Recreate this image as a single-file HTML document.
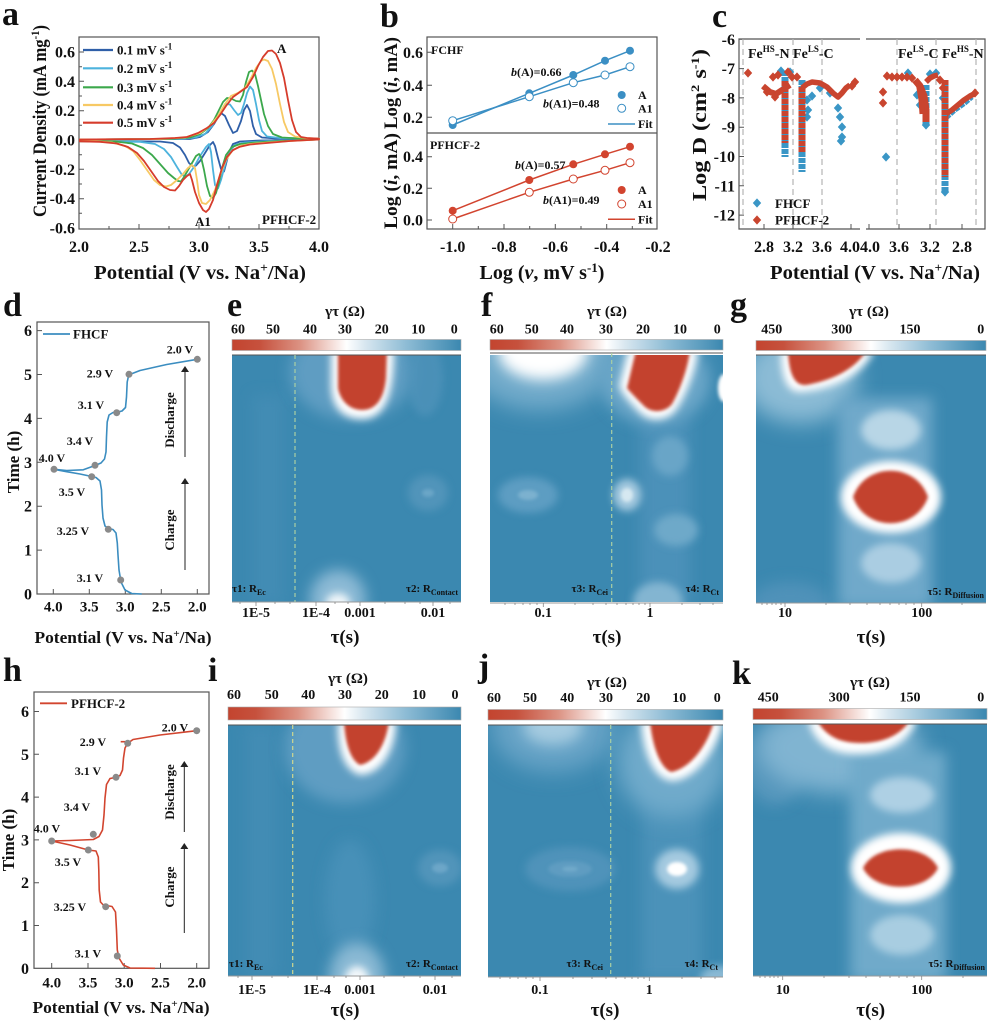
<!DOCTYPE html>
<html><head><meta charset="utf-8"><style>
html,body{margin:0;padding:0;background:#fff;}
svg{display:block;}
text{font-family:"Liberation Serif","DejaVu Serif",serif;font-weight:bold;fill:#111;}
</style></head><body>
<svg width="989" height="1024" viewBox="0 0 989 1024" xmlns="http://www.w3.org/2000/svg">
<defs>
<linearGradient id="cb" x1="0" x2="1" y1="0" y2="0">
<stop offset="0" stop-color="#c3442f"/><stop offset="0.12" stop-color="#c6513d"/><stop offset="0.3" stop-color="#dc9384"/><stop offset="0.44" stop-color="#f5dfda"/><stop offset="0.5" stop-color="#ffffff"/><stop offset="0.58" stop-color="#d8e7f0"/><stop offset="0.76" stop-color="#8ebcd5"/><stop offset="1" stop-color="#3b88b0"/>
</linearGradient>
<filter id="b2" x="-50%" y="-50%" width="200%" height="200%"><feGaussianBlur stdDeviation="1.5"/></filter>
<filter id="b4" x="-50%" y="-50%" width="200%" height="200%"><feGaussianBlur stdDeviation="4"/></filter>
<filter id="b7" x="-50%" y="-50%" width="200%" height="200%"><feGaussianBlur stdDeviation="7"/></filter>
<filter id="b11" x="-50%" y="-50%" width="200%" height="200%"><feGaussianBlur stdDeviation="11"/></filter>
<clipPath id="ce"><rect x="232" y="355" width="229" height="247"/></clipPath>
<clipPath id="cf"><rect x="490" y="355" width="233" height="247"/></clipPath>
<clipPath id="cg"><rect x="756" y="355" width="230" height="248"/></clipPath>
<clipPath id="ci"><rect x="228" y="725" width="233" height="251"/></clipPath>
<clipPath id="cj"><rect x="488" y="725" width="235" height="252"/></clipPath>
<clipPath id="ck"><rect x="753" y="724" width="234" height="252"/></clipPath>
<path id="dm" d="M0,-4.6 L4.2,0 L0,4.6 L-4.2,0Z"/>
<marker id="ar" markerWidth="6" markerHeight="8" refX="3" refY="4" orient="auto"><path d="M0,0 L6,4 L0,8 Z" fill="#222"/></marker>
</defs>

<!-- ============ PANEL A ============ -->
<text x="2" y="25" font-size="34">a</text>
<rect x="79" y="37" width="240" height="192" fill="none" stroke="#555" stroke-width="1.2"/>
<g stroke="#555" stroke-width="1">
<path d="M79,52H84M79,81.3H84M79,110.7H84M79,140H84M79,169.3H84M79,198.7H84M79,66.7H82M79,96H82M79,125.3H82M79,154.7H82M79,184H82M79,213.3H82"/>
<path d="M79,229V224M139,229V224M199,229V224M259,229V224M319,229V224M109,229V226M169,229V226M229,229V226M289,229V226"/>
</g>
<g font-size="16" text-anchor="end">
<text x="75" y="57.5">0.6</text><text x="75" y="86.8">0.4</text><text x="75" y="116.2">0.2</text><text x="75" y="145.5">0.0</text><text x="75" y="174.8">-0.2</text><text x="75" y="204.2">-0.4</text><text x="75" y="233.5">-0.6</text>
</g>
<g font-size="16" text-anchor="middle">
<text x="79" y="252">2.0</text><text x="139" y="252">2.5</text><text x="199" y="252">3.0</text><text x="259" y="252">3.5</text><text x="319" y="252">4.0</text>
</g>
<text x="200" y="279" font-size="20" text-anchor="middle" textLength="212" lengthAdjust="spacingAndGlyphs">Potential (V vs. Na<tspan dy="-7" font-size="13">+</tspan><tspan dy="7">/Na)</tspan></text>
<text transform="translate(46,121) rotate(-90)" font-size="19" text-anchor="middle" textLength="192" lengthAdjust="spacingAndGlyphs">Current Density (mA mg<tspan dy="-7" font-size="12">-1</tspan><tspan dy="7">)</tspan></text>
<g fill="none" stroke-width="1.8" stroke-linejoin="round">
<path stroke="#2f5fa8" d="M79,139.5 L190,139 L200,137 L208,132 L214,124 L218,117 L221.5,113.3 L225,116 L229,125 L233,133 L237,131 L241,121 L244,110 L247,105 L250,111 L253,126 L256,134 L262,137.5 L275,138.3 L319,138.7 L319,139.5 L260,140.5 L240,141.5 L233,144 L229,152 L226,164 L224,171.5 L221,169 L218,158 L215,146 L213,142 L210,145 L205,153 L200,161 L196,165.5 L193,166.5 L189,163 L185,155 L180,147.5 L173,143 L160,141.5 L79,141.2"/>
<path stroke="#4db3dd" d="M79,139.5 L180,139 L195,137.5 L205,134 L212,126 L218,117 L223,108 L226,104 L230,104.5 L234,110 L238,115 L241,113 L244,104 L247,93 L250,86.5 L253,90 L256,104 L259,120 L262,131 L267,136.5 L280,138 L319,138.7 L319,139.5 L270,141 L245,142.5 L235,145 L229,152 L225,165 L221,180 L218,188.5 L215,185 L213,170 L211,152 L209,144 L206,147 L200,156 L194,167 L189,174 L186,176.5 L182,175 L177,167 L171,157 L164,149 L155,144 L140,141.8 L79,141.2"/>
<path stroke="#3ca84c" d="M79,139.5 L170,139 L190,137.5 L200,134 L208,128 L214,120 L219,110 L223,102 L227,98 L231,98.5 L236,101 L240,101.5 L243,95 L246,82 L249,72 L252,70.5 L255,74 L258,86 L261,100 L264,114 L268,126 L273,134 L282,137.5 L300,138.5 L319,138.7 L319,139.5 L280,141 L255,142.5 L240,144 L232,147 L226,155 L222,168 L219,182 L216,193 L213,198 L210,196 L207,186 L204,170 L201,157 L199,154 L196,156 L192,163 L188,170 L184,177 L181,181.5 L178,181 L174,178 L168,173 L160,164 L152,155 L143,148 L132,143.5 L115,141.5 L79,141.2"/>
<path stroke="#f7c964" d="M79,139.5 L160,139 L185,137.5 L200,133 L210,126 L218,116 L225,104 L231,96 L238,93 L245,88 L251,78 L256,68 L261,61 L264,59.5 L268,61 L272,69 L276,84 L280,104 L284,122 L288,132 L295,136.5 L305,138 L319,138.7 L319,139.5 L290,141 L268,142.5 L250,144 L240,146 L232,151 L226,160 L220,175 L215,190 L210,200 L206,204 L202,203 L199,195 L197,180 L195,168 L192,165 L188,168 L183,174 L177,180 L171,185 L166,186.5 L160,185 L154,180 L147,170 L140,160 L133,151 L125,146 L112,142.5 L95,141.3 L79,141.2"/>
<path stroke="#d63c2c" d="M79,139.5 L150,139 L175,138 L187,137 L198,133 L207,128 L214,123 L220,115 L226,106 L233,97 L240,92 L247,87 L253,77 L258,66 L263,57 L268,51 L272,50.5 L276,54 L280,63 L284,78 L288,100 L292,120 L296,132 L301,137 L307,138 L319,138.7 L319,139.5 L290,141 L267,143 L250,144.5 L240,146.7 L233,150 L227,157 L222,168 L217,185 L213,200 L209,209 L206,212 L203,210 L199,203 L195,192 L192,180 L190,174 L187,176 L183,180 L179,186 L175,190.5 L170,190 L164,187 L158,181 L151,171 L144,161 L137,153 L128,147 L117,143.5 L100,141.8 L79,141.3"/>
</g>
<g stroke-width="2.2">
<line x1="83" y1="50" x2="113" y2="50" stroke="#2f5fa8"/><line x1="83" y1="68.3" x2="113" y2="68.3" stroke="#4db3dd"/><line x1="83" y1="87.3" x2="113" y2="87.3" stroke="#3ca84c"/><line x1="83" y1="105" x2="113" y2="105" stroke="#f7c964"/><line x1="83" y1="122.7" x2="113" y2="122.7" stroke="#d63c2c"/>
</g>
<g font-size="13">
<text x="117" y="54.5">0.1 mV s<tspan dy="-5" font-size="9">-1</tspan></text>
<text x="117" y="72.8">0.2 mV s<tspan dy="-5" font-size="9">-1</tspan></text>
<text x="117" y="91.8">0.3 mV s<tspan dy="-5" font-size="9">-1</tspan></text>
<text x="117" y="109.5">0.4 mV s<tspan dy="-5" font-size="9">-1</tspan></text>
<text x="117" y="127.2">0.5 mV s<tspan dy="-5" font-size="9">-1</tspan></text>
</g>
<text x="277" y="53" font-size="13">A</text>
<text x="195" y="226" font-size="13">A1</text>
<text x="262" y="224" font-size="13">PFHCF-2</text>

<!-- ============ PANEL B ============ -->
<text x="380" y="27" font-size="34">b</text>
<rect x="427" y="37" width="230" height="192" fill="none" stroke="#555" stroke-width="1.2"/>
<line x1="427" y1="133" x2="657" y2="133" stroke="#555" stroke-width="1.2"/>
<g stroke="#555" stroke-width="1">
<path d="M427,52.3H432M427,85.3H432M427,117.3H432M427,156.7H432M427,188.3H432M427,220H432"/>
<path d="M452.7,229V224M504,229V224M555.3,229V224M606.7,229V224M478.3,229V226M529.7,229V226M581,229V226M632.3,229V226"/>
</g>
<g font-size="16" text-anchor="end">
<text x="423" y="57.8">0.6</text><text x="423" y="90.8">0.4</text><text x="423" y="122.8">0.2</text>
<text x="423" y="162.2">0.4</text><text x="423" y="193.8">0.2</text><text x="423" y="225.5">0.0</text>
</g>
<g font-size="16" text-anchor="middle">
<text x="452.7" y="252">-1.0</text><text x="504" y="252">-0.8</text><text x="555.3" y="252">-0.6</text><text x="606.7" y="252">-0.4</text><text x="658" y="252">-0.2</text>
</g>
<text x="542" y="279" font-size="20" text-anchor="middle">Log (<tspan font-style="italic">v</tspan>, mV s<tspan dy="-7" font-size="13">-1</tspan><tspan dy="7">)</tspan></text>
<text transform="translate(397,83) rotate(-90)" font-size="19" text-anchor="middle" textLength="92" lengthAdjust="spacingAndGlyphs">Log (<tspan font-style="italic">i</tspan>, mA)</text>
<text transform="translate(397,181) rotate(-90)" font-size="19" text-anchor="middle" textLength="96" lengthAdjust="spacingAndGlyphs">Log (<tspan font-style="italic">i</tspan>, mA)</text>
<g stroke-width="1.5" fill="none">
<path stroke="#3b8fc4" d="M452.7,125 L529.3,93.3 L573.3,75 L605,60.7 L630,50.7"/>
<path stroke="#3b8fc4" d="M452.7,120.7 L529.3,96.7 L573.3,82.7 L605,75 L630,66.7"/>
<path stroke="#d2442f" d="M452.7,210.7 L529.3,180 L573.3,164.3 L605,154.3 L630,146.7"/>
<path stroke="#d2442f" d="M452.7,219 L529.3,192.3 L573.3,179 L605,170.3 L630,162.7"/>
</g>
<g fill="#3b8fc4"><circle cx="452.7" cy="125" r="4"/><circle cx="529.3" cy="93.3" r="4"/><circle cx="573.3" cy="75" r="4"/><circle cx="605" cy="60.7" r="4"/><circle cx="630" cy="50.7" r="4"/><circle cx="621.7" cy="95" r="4"/></g>
<g fill="#fff" stroke="#3b8fc4" stroke-width="1"><circle cx="452.7" cy="120.7" r="4"/><circle cx="529.3" cy="96.7" r="4"/><circle cx="573.3" cy="82.7" r="4"/><circle cx="605" cy="75" r="4"/><circle cx="630" cy="66.7" r="4"/><circle cx="621.7" cy="108.3" r="4"/></g>
<g fill="#d2442f"><circle cx="452.7" cy="210.7" r="4"/><circle cx="529.3" cy="180" r="4"/><circle cx="573.3" cy="164.3" r="4"/><circle cx="605" cy="154.3" r="4"/><circle cx="630" cy="146.7" r="4"/><circle cx="621.7" cy="190" r="4"/></g>
<g fill="#fff" stroke="#d2442f" stroke-width="1"><circle cx="452.7" cy="219" r="4"/><circle cx="529.3" cy="192.3" r="4"/><circle cx="573.3" cy="179" r="4"/><circle cx="605" cy="170.3" r="4"/><circle cx="630" cy="162.7" r="4"/><circle cx="621.7" cy="204" r="4"/></g>
<line x1="608" y1="124" x2="635" y2="124" stroke="#3b8fc4" stroke-width="1.5"/>
<line x1="608" y1="219.3" x2="635" y2="219.3" stroke="#d2442f" stroke-width="1.5"/>
<g font-size="12">
<text x="638" y="99">A</text><text x="638" y="112.5">A1</text><text x="638" y="128">Fit</text>
<text x="638" y="194">A</text><text x="638" y="208">A1</text><text x="638" y="223.5">Fit</text>
<text x="431" y="54">FCHF</text><text x="430" y="149">PFHCF-2</text>
<text x="511" y="76"><tspan font-style="italic">b</tspan>(A)=0.66</text>
<text x="543" y="107.5"><tspan font-style="italic">b</tspan>(A1)=0.48</text>
<text x="515" y="169"><tspan font-style="italic">b</tspan>(A)=0.57</text>
<text x="543" y="204"><tspan font-style="italic">b</tspan>(A1)=0.49</text>
</g>

<!-- ============ PANEL C ============ -->
<text x="712" y="27" font-size="34">c</text>
<g stroke="#555" stroke-width="1.2" fill="none">
<path d="M860,39 H739 V229 H860"/>
<path d="M866,39 H985 V229 H866"/>
</g>
<g stroke="#555" stroke-width="1">
<path d="M739,39.3H744M739,68.6H744M739,97.9H744M739,127.2H744M739,156.5H744M739,185.8H744M739,215.1H744"/>
<path d="M764,229V224M793,229V224M822,229V224M851,229V224M869,229V224M899,229V224M930,229V224M962,229V224"/>
</g>
<g stroke="#b5b5b5" stroke-width="1.2" stroke-dasharray="6,4">
<line x1="743" y1="39" x2="743" y2="229"/><line x1="793" y1="39" x2="793" y2="229"/><line x1="822" y1="39" x2="822" y2="229"/>
<line x1="897" y1="39" x2="897" y2="229"/><line x1="936" y1="39" x2="936" y2="229"/><line x1="976" y1="39" x2="976" y2="229"/>
</g>
<g font-size="16" text-anchor="end">
<text x="735" y="44.8">-6</text><text x="735" y="74.1">-7</text><text x="735" y="103.4">-8</text><text x="735" y="132.7">-9</text><text x="735" y="162">-10</text><text x="735" y="191.3">-11</text><text x="735" y="220.6">-12</text>
</g>
<g font-size="16" text-anchor="middle">
<text x="764" y="252">2.8</text><text x="793" y="252">3.2</text><text x="822" y="252">3.6</text><text x="850" y="252">4.0</text>
<text x="870" y="252">4.0</text><text x="899" y="252">3.6</text><text x="930" y="252">3.2</text><text x="962" y="252">2.8</text>
</g>
<text x="875" y="279" font-size="20" text-anchor="middle" textLength="210" lengthAdjust="spacingAndGlyphs">Potential (V vs. Na<tspan dy="-7" font-size="13">+</tspan><tspan dy="7">/Na)</tspan></text>
<text transform="translate(706,125) rotate(-90)" font-size="20" text-anchor="middle" textLength="152" lengthAdjust="spacingAndGlyphs">Log D (cm<tspan dy="-7" font-size="12">2</tspan><tspan dy="7"> s</tspan><tspan dy="-7" font-size="12">-1</tspan><tspan dy="7">)</tspan></text>
<g font-size="14">
<text x="748" y="58">Fe<tspan dy="-6" font-size="9">HS</tspan><tspan dy="6">-N Fe</tspan><tspan dy="-6" font-size="9">LS</tspan><tspan dy="6">-C</tspan></text>
<text x="898" y="58">Fe<tspan dy="-6" font-size="9">LS</tspan><tspan dy="6">-C Fe</tspan><tspan dy="-6" font-size="9">HS</tspan><tspan dy="6">-N</tspan></text>
</g>
<!-- blue streaks -->
<g stroke="#3a96c6" stroke-width="7" fill="none" stroke-linejoin="round" stroke-dasharray="5,1">
<line x1="785" y1="71" x2="785" y2="157"/><line x1="802" y1="80" x2="802" y2="172"/>
<line x1="926" y1="85" x2="926" y2="125"/><line x1="945" y1="85" x2="945" y2="192"/>
<path stroke-width="5" d="M946,118 L955,110 L965,103 L972,97"/>
</g>
<g fill="#3a96c6">
<use href="#dm" x="781" y="71"/><use href="#dm" x="790" y="72"/><use href="#dm" x="807" y="100"/><use href="#dm" x="808" y="110"/><use href="#dm" x="807" y="117"/><use href="#dm" x="838" y="108"/><use href="#dm" x="840" y="117"/><use href="#dm" x="842" y="127"/><use href="#dm" x="842" y="137"/><use href="#dm" x="841" y="141"/><use href="#dm" x="820" y="88"/><use href="#dm" x="830" y="93"/><use href="#dm" x="812" y="96"/>
<use href="#dm" x="886" y="157"/><use href="#dm" x="908" y="73"/><use href="#dm" x="930" y="74"/><use href="#dm" x="936" y="73"/><use href="#dm" x="920" y="105"/><use href="#dm" x="917" y="95"/><use href="#dm" x="943" y="98"/><use href="#dm" x="945" y="192"/><use href="#dm" x="926" y="125"/>
<use href="#dm" x="757" y="203"/>
</g>
<!-- red -->
<g stroke="#c9452f" stroke-width="7" fill="none" stroke-linejoin="round">
<line x1="785" y1="81" x2="785" y2="143" stroke-dasharray="5,1"/><line x1="802" y1="87" x2="802" y2="153" stroke-dasharray="5,1"/>
<path stroke-width="6" d="M763,86 L770,92 L776,94 L782,90 L790,85"/>
<path stroke-width="5.5" d="M802,88 L807,84 L812,82 L820,83 L827,87 L833,93 L838,97 L842,93 L846,88 L850,85"/>
<path d="M915,80 L920,86 L924,96 L926,110 L926,122"/>
<path stroke-width="5" d="M918,82 L921,100 L922,114"/>
<path stroke-width="5.5" d="M926,82 L930,78 L934,76 L938,75"/>
<line x1="945" y1="80" x2="945" y2="177" stroke-dasharray="5,1"/>
<path stroke-width="5.5" d="M946,114 L952,110 L958,105 L964,100 L970,96 L974,94"/>
</g>
<g fill="#c9452f">
<use href="#dm" x="748" y="73"/><use href="#dm" x="773" y="77"/><use href="#dm" x="778" y="75"/><use href="#dm" x="788" y="72"/><use href="#dm" x="792" y="77"/><use href="#dm" x="797" y="77"/><use href="#dm" x="767" y="92"/><use href="#dm" x="775" y="97"/><use href="#dm" x="852" y="86"/><use href="#dm" x="855" y="82"/>
<use href="#dm" x="883" y="92"/><use href="#dm" x="883" y="103"/><use href="#dm" x="887" y="76"/><use href="#dm" x="892" y="77"/><use href="#dm" x="897" y="77"/><use href="#dm" x="902" y="77"/><use href="#dm" x="907" y="77"/><use href="#dm" x="912" y="78"/><use href="#dm" x="940" y="80"/><use href="#dm" x="943" y="88"/><use href="#dm" x="975" y="93"/>
<use href="#dm" x="757" y="220"/>
</g>
<g font-size="13"><text x="775" y="208">FHCF</text><text x="775" y="224.5">PFHCF-2</text></g>

<!-- ============ PANEL D ============ -->
<text x="3" y="316" font-size="34">d</text>
<rect x="37" y="322" width="172" height="272" fill="none" stroke="#555" stroke-width="1.2"/>
<g stroke="#555" stroke-width="1">
<path d="M37,330.6H42M37,374.5H42M37,418.4H42M37,462.3H42M37,506.2H42M37,550.1H42"/>
<path d="M53.3,594V589M89.3,594V589M125.3,594V589M161.3,594V589M197.3,594V589"/>
</g>
<g font-size="16" text-anchor="end">
<text x="32" y="599.5">0</text><text x="32" y="555.6">1</text><text x="32" y="511.7">2</text><text x="32" y="467.8">3</text><text x="32" y="423.9">4</text><text x="32" y="380">5</text><text x="32" y="336.1">6</text>
</g>
<g font-size="15" text-anchor="middle">
<text x="53.3" y="611.5">4.0</text><text x="89.3" y="611.5">3.5</text><text x="125.3" y="611.5">3.0</text><text x="161.3" y="611.5">2.5</text><text x="197.3" y="611.5">2.0</text>
</g>
<text x="123" y="643" font-size="17" text-anchor="middle" textLength="177" lengthAdjust="spacingAndGlyphs">Potential (V vs. Na<tspan dy="-6" font-size="11">+</tspan><tspan dy="6">/Na)</tspan></text>
<text transform="translate(19,462) rotate(-90)" font-size="17" text-anchor="middle">Time (h)</text>
<g fill="none" stroke="#3b8dc0" stroke-width="1.6" stroke-linejoin="round">
<path d="M141.7,594 L131.7,593.5 L125,590 L121,582 L119,570 L118,555 L117.3,543 L116,533 L113,529.5 L108.3,528.5 L105,526 L103,518 L102,505 L101.5,490 L100,481 L96,477.5 L91.7,476.5 L80,474 L66.7,471.7 L54,469.3"/>
<path d="M54,469.3 L66.7,470.5 L83.3,469.8 L95,465.5 L101,463 L104.5,459 L106,452 L106.5,437 L107.2,422 L109,415 L113,412.5 L116.7,412.3 L122,411 L125.5,407.5 L126.5,397 L127.2,382 L128.5,376 L131,374 L140,370.5 L166.7,364.5 L197.3,359.3"/>
</g>
<line x1="43" y1="334" x2="70" y2="334" stroke="#3b8dc0" stroke-width="1.8"/>
<text x="73" y="338.5" font-size="13">FHCF</text>
<g fill="#8a8a8a"><circle cx="120.7" cy="580" r="3.5"/><circle cx="108.3" cy="529.3" r="3.5"/><circle cx="91.7" cy="476.7" r="3.5"/><circle cx="54" cy="469.3" r="3.5"/><circle cx="95" cy="465.3" r="3.5"/><circle cx="116.7" cy="412.7" r="3.5"/><circle cx="129" cy="374.3" r="3.5"/><circle cx="197.3" cy="359.3" r="3.5"/></g>
<g font-size="12" text-anchor="middle">
<text x="90" y="582">3.1 V</text><text x="73" y="535">3.25 V</text><text x="72" y="496">3.5 V</text><text x="52" y="462">4.0 V</text><text x="80" y="445">3.4 V</text><text x="91" y="409">3.1 V</text><text x="100" y="377.5">2.9 V</text><text x="180" y="353.5">2.0 V</text>
</g>
<g stroke="#222" stroke-width="1" marker-end="url(#ar)"><line x1="185" y1="457" x2="185" y2="369"/><line x1="185" y1="570" x2="185" y2="481"/></g>
<text transform="translate(174,420) rotate(-90)" font-size="13" text-anchor="middle">Discharge</text>
<text transform="translate(174,530) rotate(-90)" font-size="13" text-anchor="middle">Charge</text>

<!-- ============ PANEL H ============ -->
<text x="3" y="681" font-size="34">h</text>
<rect x="34" y="692" width="175" height="276.3" fill="none" stroke="#555" stroke-width="1.2"/>
<g stroke="#555" stroke-width="1">
<path d="M34,711.5H39M34,754.3H39M34,797.1H39M34,839.9H39M34,882.7H39M34,925.5H39"/>
<path d="M51.7,968.3V963M88,968.3V963M124.2,968.3V963M160.5,968.3V963M196.7,968.3V963"/>
</g>
<g font-size="16" text-anchor="end">
<text x="29" y="973.8">0</text><text x="29" y="931">1</text><text x="29" y="888.2">2</text><text x="29" y="845.4">3</text><text x="29" y="802.6">4</text><text x="29" y="759.8">5</text><text x="29" y="717">6</text>
</g>
<g font-size="15" text-anchor="middle">
<text x="51.7" y="987.5">4.0</text><text x="88" y="987.5">3.5</text><text x="124.2" y="987.5">3.0</text><text x="160.5" y="987.5">2.5</text><text x="196.7" y="987.5">2.0</text>
</g>
<text x="121" y="1013" font-size="17" text-anchor="middle" textLength="177" lengthAdjust="spacingAndGlyphs">Potential (V vs. Na<tspan dy="-6" font-size="11">+</tspan><tspan dy="6">/Na)</tspan></text>
<text transform="translate(14,840) rotate(-90)" font-size="17" text-anchor="middle">Time (h)</text>
<g fill="none" stroke="#d2452f" stroke-width="1.6" stroke-linejoin="round">
<path d="M155,968.3 L130,968 L123.3,965 L119,958 L117.3,950 L116.5,930 L115.5,912 L112,906.5 L103.3,905 L100.5,902 L99.2,890 L98.8,870 L98.3,857 L96,851 L88.3,850 L70,845 L51.7,841"/>
<path d="M51.7,841 L70,840.5 L93.3,839.5 L99,836.5 L102.5,830 L104,815 L105,798 L106.5,784.5 L110,778.5 L116,777.3 L120,775.5 L122.5,770 L123.5,758 L125,748 L127.7,743.3 L133,739.5 L160,735 L196.7,730.7"/>
<path d="M120.7,741.7 L128.3,741.7"/>
</g>
<line x1="40" y1="703.3" x2="67" y2="703.3" stroke="#d2452f" stroke-width="1.8"/>
<text x="71" y="708" font-size="13">PFHCF-2</text>
<g fill="#8a8a8a"><circle cx="117.3" cy="956" r="3.5"/><circle cx="105.7" cy="906.7" r="3.5"/><circle cx="88.3" cy="850" r="3.5"/><circle cx="51.7" cy="841" r="3.5"/><circle cx="93.3" cy="834.3" r="3.5"/><circle cx="116" cy="777.3" r="3.5"/><circle cx="127.7" cy="743.3" r="3.5"/><circle cx="196.7" cy="730.7" r="3.5"/></g>
<g font-size="12" text-anchor="middle">
<text x="88" y="957.5">3.1 V</text><text x="70" y="911">3.25 V</text><text x="68" y="866">3.5 V</text><text x="47" y="832.5">4.0 V</text><text x="77" y="811">3.4 V</text><text x="88" y="775">3.1 V</text><text x="93" y="746">2.9 V</text><text x="175" y="731.5">2.0 V</text>
</g>
<g stroke="#222" stroke-width="1" marker-end="url(#ar)"><line x1="184.3" y1="832" x2="184.3" y2="764"/><line x1="184.3" y1="933" x2="184.3" y2="846"/></g>
<text transform="translate(174,792) rotate(-90)" font-size="13" text-anchor="middle">Discharge</text>
<text transform="translate(174,887) rotate(-90)" font-size="13" text-anchor="middle">Charge</text>

<!-- ============ PANEL E ============ -->
<text x="227" y="316" font-size="34">e</text>
<text x="345" y="316" font-size="15" text-anchor="middle">γτ (Ω)</text>
<g font-size="14" text-anchor="middle">
<text x="238" y="333.5">60</text><text x="273" y="333.5">50</text><text x="310" y="333.5">40</text><text x="345" y="333.5">30</text><text x="381.7" y="333.5">20</text><text x="418.3" y="333.5">10</text><text x="454.3" y="333.5">0</text>
</g>
<rect x="232" y="339.5" width="229" height="11" fill="url(#cb)" stroke="#aaa" stroke-width="0.6"/>
<g clip-path="url(#ce)">
<rect x="232" y="355" width="229" height="247" fill="#3b88b0"/>
<rect x="252" y="395" width="32" height="210" fill="#4890b8" opacity="0.5" filter="url(#b7)"/>
<ellipse cx="352" cy="372" rx="62" ry="48" fill="#5e9dc2" filter="url(#b7)"/>
<ellipse cx="425" cy="378" rx="18" ry="38" fill="#5194bb" opacity="0.7" filter="url(#b4)"/>
<ellipse cx="428" cy="493" rx="20" ry="18" fill="#5194ba" filter="url(#b4)"/>
<ellipse cx="428" cy="493" rx="6" ry="4" fill="#6ba6c7" filter="url(#b2)"/>
<ellipse cx="338" cy="600" rx="28" ry="30" fill="#8cbad5" filter="url(#b7)"/>
<ellipse cx="338" cy="603" rx="12" ry="10" fill="#eef5f9" filter="url(#b4)"/>
<path d="M331,350 L394,350 C394,385 389,419 362,419 C337,419 331,400 331,385 Z" fill="#fff" filter="url(#b4)"/>
<path d="M338,350 L387,350 L386,378 C384,399 376,410 362,410 C349,410 340,400 338,388 Z" fill="#c3432f" filter="url(#b2)"/>
</g>
<line x1="232" y1="355" x2="461" y2="355" stroke="#555" stroke-width="1"/>
<line x1="232" y1="602" x2="461" y2="602" stroke="#999" stroke-width="1"/>
<line x1="295" y1="355" x2="295" y2="602" stroke="#a9cfa4" stroke-width="1.2" stroke-dasharray="4,3"/>
<g stroke="#888" stroke-width="0.8"><path d="M256,602V606M316,602V606M360,602V606M433,602V606M240,602V604M275,602V604M290,602V604M335,602V604M348,602V604M385,602V604M405,602V604M420,602V604M450,602V604"/></g>
<g font-size="14" text-anchor="middle">
<text x="256" y="617">1E-5</text><text x="316" y="617">1E-4</text><text x="360" y="617">0.001</text><text x="433" y="617">0.01</text>
</g>
<text x="345" y="643" font-size="19" text-anchor="middle">τ(s)</text>
<g font-size="11">
<text x="232" y="592">τ1:  R<tspan dy="3" font-size="8">Ec</tspan></text>
<text x="458" y="592" text-anchor="end">τ2:  R<tspan dy="3" font-size="8">Contact</tspan></text>
</g>

<!-- ============ PANEL F ============ -->
<text x="481" y="316" font-size="34">f</text>
<text x="607" y="316" font-size="15" text-anchor="middle">γτ (Ω)</text>
<g font-size="14" text-anchor="middle">
<text x="496.7" y="333.5">60</text><text x="531.7" y="333.5">50</text><text x="567" y="333.5">40</text><text x="606" y="333.5">30</text><text x="643" y="333.5">20</text><text x="680" y="333.5">10</text><text x="717.3" y="333.5">0</text>
</g>
<rect x="490" y="339.5" width="233" height="10.5" fill="url(#cb)" stroke="#aaa" stroke-width="0.6"/>
<g clip-path="url(#cf)">
<rect x="490" y="353" width="233" height="250" fill="#3b88b0"/>
<rect x="640" y="410" width="50" height="195" fill="#4b91b9" filter="url(#b7)"/>
<ellipse cx="540" cy="352" rx="78" ry="58" fill="#72abcb" filter="url(#b11)"/>
<ellipse cx="543" cy="352" rx="45" ry="28" fill="#ffffff" filter="url(#b7)"/>
<ellipse cx="655" cy="380" rx="55" ry="45" fill="#6aa6c8" filter="url(#b7)"/>
<ellipse cx="627" cy="495" rx="14" ry="16" fill="#a4c9df" filter="url(#b4)"/>
<ellipse cx="627" cy="495" rx="6" ry="7" fill="#d6e8f1" filter="url(#b2)"/>
<ellipse cx="528" cy="495" rx="30" ry="18" fill="#5d9dc2" filter="url(#b4)"/>
<ellipse cx="528" cy="495" rx="10" ry="5" fill="#7cb1cf" filter="url(#b2)"/>
<ellipse cx="676" cy="530" rx="22" ry="16" fill="#6ea9c9" filter="url(#b4)"/>
<ellipse cx="670" cy="456" rx="18" ry="20" fill="#69a5c7" filter="url(#b4)"/>
<ellipse cx="658" cy="602" rx="25" ry="20" fill="#83b5d1" filter="url(#b4)"/>
<ellipse cx="724" cy="388" rx="6" ry="14" fill="#ffffff" filter="url(#b2)"/>
<path d="M628,350 L698,350 C696,370 686,396 676,410 C668,421 650,423 640,413 C630,403 621,393 619,386 Z" fill="#fff" filter="url(#b4)"/>
<path d="M636,350 L690,350 C688,368 680,390 672,404 C666,412 652,414 644,406 C636,398 630,392 627,388 Z" fill="#c3432f" filter="url(#b2)"/>
</g>
<line x1="490" y1="353" x2="723" y2="353" stroke="#555" stroke-width="1"/>
<line x1="490" y1="603" x2="723" y2="603" stroke="#999" stroke-width="1"/>
<line x1="611.7" y1="353" x2="611.7" y2="603" stroke="#a9cfa4" stroke-width="1.2" stroke-dasharray="4,3"/>
<g stroke="#888" stroke-width="0.8"><path d="M543.3,603V607M650,603V607M505,603V605M515,603V605M523,603V605M530,603V605M537,603V605M575,603V605M593,603V605M606,603V605M617,603V605M626,603V605M633,603V605M639,603V605M645,603V605M682,603V605M700,603V605M713,603V605"/></g>
<g font-size="14" text-anchor="middle"><text x="543.3" y="617">0.1</text><text x="650" y="617">1</text></g>
<text x="607" y="643" font-size="19" text-anchor="middle">τ(s)</text>
<g font-size="11">
<text x="608" y="592" text-anchor="end">τ3:  R<tspan dy="3" font-size="8">Cei</tspan></text>
<text x="719" y="592" text-anchor="end">τ4:  R<tspan dy="3" font-size="8">Ct</tspan></text>
</g>

<!-- ============ PANEL G ============ -->
<text x="730" y="316" font-size="34">g</text>
<text x="869" y="316" font-size="15" text-anchor="middle">γτ (Ω)</text>
<g font-size="14" text-anchor="middle">
<text x="771.7" y="333.5">450</text><text x="841.7" y="333.5">300</text><text x="910" y="333.5">150</text><text x="980.7" y="333.5">0</text>
</g>
<rect x="756" y="340.5" width="230" height="10" fill="url(#cb)" stroke="#aaa" stroke-width="0.6"/>
<g clip-path="url(#cg)">
<rect x="756" y="355" width="230" height="248" fill="#3b88b0"/>
<ellipse cx="790" cy="604" rx="40" ry="22" fill="#5092b9" filter="url(#b7)"/>
<ellipse cx="800" cy="378" rx="58" ry="45" fill="#8bbbd5" filter="url(#b11)"/>
<rect x="838" y="398" width="94" height="210" fill="#6fa9ca" filter="url(#b7)"/>
<ellipse cx="891" cy="430" rx="30" ry="20" fill="#b8d6e6" filter="url(#b4)"/>
<ellipse cx="891" cy="563" rx="30" ry="20" fill="#aacde2" filter="url(#b4)"/>
<ellipse cx="891" cy="497" rx="50" ry="36" fill="#ffffff" filter="url(#b4)"/>
<path d="M781,351 L874,351 C862,376 832,390 800,392 C786,392 781,376 781,351 Z" fill="#fff" filter="url(#b4)"/>
<path d="M788,351 L866,351 C855,370 830,381 806,385 C795,386 789,375 788,351 Z" fill="#c3432f" filter="url(#b2)"/>
<path d="M853,497 C865,462 916,462 928,497 C916,532 865,532 853,497 Z" fill="#c3432f" filter="url(#b2)"/>
</g>
<line x1="756" y1="355" x2="986" y2="355" stroke="#555" stroke-width="1"/>
<line x1="756" y1="603" x2="986" y2="603" stroke="#999" stroke-width="1"/>
<g stroke="#888" stroke-width="0.8"><path d="M785,603V607M921.7,603V607M762,603V605M767,603V605M772,603V605M776,603V605M781,603V605M826,603V605M850,603V605M867,603V605M880,603V605M890,603V605M899,603V605M906,603V605M914,603V605M962,603V605"/></g>
<g font-size="14" text-anchor="middle"><text x="785" y="617">10</text><text x="921.7" y="617">100</text></g>
<text x="871" y="643" font-size="19" text-anchor="middle">τ(s)</text>
<text x="984" y="595" font-size="11" text-anchor="end">τ5:  R<tspan dy="3" font-size="8">Diffusion</tspan></text>

<!-- ============ PANEL I ============ -->
<text x="208" y="681" font-size="34">i</text>
<text x="348" y="683" font-size="15" text-anchor="middle">γτ (Ω)</text>
<g font-size="14" text-anchor="middle">
<text x="234" y="699">60</text><text x="271.7" y="699">50</text><text x="308.3" y="699">40</text><text x="345" y="699">30</text><text x="381.7" y="699">20</text><text x="419" y="699">10</text><text x="455" y="699">0</text>
</g>
<rect x="228" y="707" width="233" height="13" fill="url(#cb)" stroke="#aaa" stroke-width="0.6"/>
<g clip-path="url(#ci)">
<rect x="228" y="725" width="233" height="251" fill="#3b88b0"/>
<rect x="245" y="725" width="32" height="250" fill="#4890b8" opacity="0.5" filter="url(#b7)"/>
<ellipse cx="350" cy="900" rx="25" ry="60" fill="#4690b8" filter="url(#b7)"/>
<ellipse cx="345" cy="748" rx="60" ry="55" fill="#5e9dc2" filter="url(#b7)"/>
<ellipse cx="357" cy="978" rx="28" ry="35" fill="#8ab9d4" filter="url(#b7)"/>
<ellipse cx="357" cy="980" rx="12" ry="14" fill="#f3f8fb" filter="url(#b4)"/>
<ellipse cx="440" cy="868" rx="22" ry="18" fill="#5194ba" filter="url(#b4)"/>
<ellipse cx="440" cy="868" rx="8" ry="5" fill="#6ca6c8" filter="url(#b2)"/>
<path d="M338,721 L396,721 C395,750 382,774 360,775 C343,770 337,748 338,721 Z" fill="#fff" filter="url(#b4)"/>
<path d="M344,721 L389,721 C386,745 375,762 360,765 C350,760 345,742 344,721 Z" fill="#c3432f" filter="url(#b2)"/>
</g>
<line x1="228" y1="725" x2="461" y2="725" stroke="#555" stroke-width="1"/>
<line x1="228" y1="976" x2="461" y2="976" stroke="#999" stroke-width="1"/>
<line x1="292.7" y1="725" x2="292.7" y2="976" stroke="#cfd78f" stroke-width="1.2" stroke-dasharray="4,3"/>
<g stroke="#888" stroke-width="0.8"><path d="M252,976V980M317,976V980M360,976V980M435,976V980M238,976V978M272,976V978M288,976V978M334,976V978M346,976V978M384,976V978M404,976V978M420,976V978M452,976V978"/></g>
<g font-size="14" text-anchor="middle">
<text x="252" y="994">1E-5</text><text x="317" y="994">1E-4</text><text x="360" y="994">0.001</text><text x="435" y="994">0.01</text>
</g>
<text x="345" y="1016" font-size="19" text-anchor="middle">τ(s)</text>
<g font-size="11">
<text x="229" y="967">τ1:  R<tspan dy="3" font-size="8">Ec</tspan></text>
<text x="458" y="967" text-anchor="end">τ2:  R<tspan dy="3" font-size="8">Contact</tspan></text>
</g>

<!-- ============ PANEL J ============ -->
<text x="478" y="677" font-size="34">j</text>
<text x="607" y="687" font-size="15" text-anchor="middle">γτ (Ω)</text>
<g font-size="14" text-anchor="middle">
<text x="494" y="702">60</text><text x="530" y="702">50</text><text x="567.3" y="702">40</text><text x="606" y="702">30</text><text x="643.3" y="702">20</text><text x="679.3" y="702">10</text><text x="717.3" y="702">0</text>
</g>
<rect x="488" y="709.5" width="235" height="10.5" fill="url(#cb)" stroke="#aaa" stroke-width="0.6"/>
<g clip-path="url(#cj)">
<rect x="488" y="725" width="235" height="252" fill="#3b88b0"/>
<rect x="642" y="780" width="60" height="200" fill="#4c92b9" filter="url(#b7)"/>
<ellipse cx="553" cy="727" rx="62" ry="45" fill="#66a3c6" filter="url(#b11)"/>
<ellipse cx="553" cy="727" rx="30" ry="18" fill="#a5cbe0" filter="url(#b7)"/>
<ellipse cx="672" cy="762" rx="55" ry="55" fill="#70aacb" filter="url(#b11)"/>
<ellipse cx="570" cy="869" rx="45" ry="22" fill="#4f93ba" filter="url(#b4)"/>
<ellipse cx="570" cy="869" rx="22" ry="8" fill="#5e9cc1" filter="url(#b2)"/>
<ellipse cx="570" cy="869" rx="8" ry="2.5" fill="#72abcb" filter="url(#b2)"/>
<ellipse cx="677" cy="869" rx="22" ry="20" fill="#a5cae0" filter="url(#b4)"/>
<ellipse cx="677" cy="869" rx="10" ry="7" fill="#ffffff" filter="url(#b2)"/>
<ellipse cx="720" cy="978" rx="20" ry="12" fill="#8ab9d4" filter="url(#b4)"/>
<path d="M641,721 L724,721 C716,750 696,780 672,781 C652,779 643,750 641,721 Z" fill="#fff" filter="url(#b4)"/>
<path d="M650,721 L714,721 C708,745 690,769 671,772 C660,768 652,745 650,721 Z" fill="#c3432f" filter="url(#b2)"/>
</g>
<line x1="488" y1="725" x2="723" y2="725" stroke="#555" stroke-width="1"/>
<line x1="488" y1="977" x2="723" y2="977" stroke="#999" stroke-width="1"/>
<line x1="610.7" y1="725" x2="610.7" y2="977" stroke="#a9cfa4" stroke-width="1.2" stroke-dasharray="4,3"/>
<g stroke="#888" stroke-width="0.8"><path d="M540,977V981M649.3,977V981M500,977V979M510,977V979M518,977V979M526,977V979M533,977V979M573,977V979M592,977V979M606,977V979M616,977V979M625,977V979M632,977V979M638,977V979M644,977V979M682,977V979M701,977V979M715,977V979"/></g>
<g font-size="14" text-anchor="middle"><text x="540" y="994">0.1</text><text x="649.3" y="994">1</text></g>
<text x="605" y="1016" font-size="19" text-anchor="middle">τ(s)</text>
<g font-size="11">
<text x="603" y="967" text-anchor="end">τ3:  R<tspan dy="3" font-size="8">Cei</tspan></text>
<text x="718" y="967" text-anchor="end">τ4:  R<tspan dy="3" font-size="8">Ct</tspan></text>
</g>

<!-- ============ PANEL K ============ -->
<text x="732" y="684" font-size="34">k</text>
<text x="870" y="687" font-size="15" text-anchor="middle">γτ (Ω)</text>
<g font-size="14" text-anchor="middle">
<text x="768.3" y="701.5">450</text><text x="839.3" y="701.5">300</text><text x="910" y="701.5">150</text><text x="980.7" y="701.5">0</text>
</g>
<rect x="753" y="708.5" width="234" height="11" fill="url(#cb)" stroke="#aaa" stroke-width="0.6"/>
<g clip-path="url(#ck)">
<rect x="753" y="724" width="234" height="252" fill="#3b88b0"/>
<ellipse cx="775" cy="765" rx="30" ry="40" fill="#5596bc" filter="url(#b7)"/>
<ellipse cx="840" cy="748" rx="82" ry="45" fill="#80b4d1" filter="url(#b11)"/>
<rect x="850" y="752" width="96" height="230" fill="#70aaca" filter="url(#b7)"/>
<ellipse cx="902" cy="795" rx="32" ry="18" fill="#aed0e4" filter="url(#b4)"/>
<ellipse cx="902" cy="935" rx="32" ry="20" fill="#a8cde1" filter="url(#b4)"/>
<ellipse cx="901" cy="868" rx="50" ry="35" fill="#ffffff" filter="url(#b4)"/>
<path d="M808,720 L917,720 C907,746 882,754 856,754 C830,754 814,742 808,720 Z" fill="#fff" filter="url(#b4)"/>
<path d="M817,720 L910,720 C900,737 880,743 860,743 C840,743 825,736 817,720 Z" fill="#c3432f" filter="url(#b2)"/>
<path d="M863,868 C875,843 926,843 938,868 C926,893 875,893 863,868 Z" fill="#c3432f" filter="url(#b2)"/>
</g>
<line x1="753" y1="724" x2="987" y2="724" stroke="#555" stroke-width="1"/>
<line x1="753" y1="976" x2="987" y2="976" stroke="#999" stroke-width="1"/>
<g stroke="#888" stroke-width="0.8"><path d="M782.7,976V980M921.7,976V980M760,976V978M765,976V978M770,976V978M774,976V978M778,976V978M824,976V978M849,976V978M866,976V978M880,976V978M890,976V978M899,976V978M907,976V978M914,976V978M963,976V978"/></g>
<g font-size="14" text-anchor="middle"><text x="782.7" y="994">10</text><text x="921.7" y="994">100</text></g>
<text x="870.7" y="1016" font-size="19" text-anchor="middle">τ(s)</text>
<text x="985" y="967" font-size="11" text-anchor="end">τ5:  R<tspan dy="3" font-size="8">Diffusion</tspan></text>
</svg>
</body></html>
